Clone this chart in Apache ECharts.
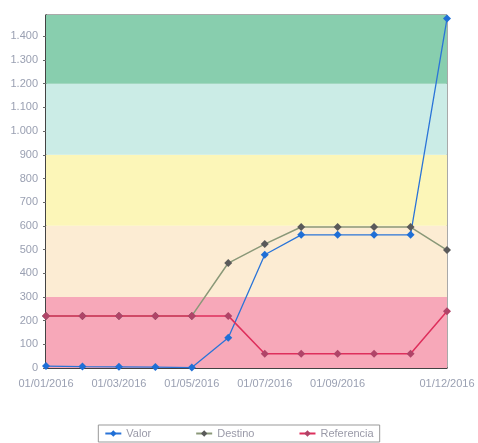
<!DOCTYPE html>
<html><head><meta charset="utf-8">
<script src="https://cdn.jsdelivr.net/npm/echarts@6/dist/echarts.min.js"></script>
<style>html,body{margin:0;padding:0;background:#fff}#c{width:478px;height:443px}</style>
</head><body><div id="c"></div>
<script>
const categories = ['01/01/2016','01/02/2016','01/03/2016','01/04/2016','01/05/2016','01/06/2016','01/07/2016','01/08/2016','01/09/2016','01/10/2016','01/11/2016','01/12/2016'];
const labelIdx = [0,2,4,6,8,11];
const valor = [8, 6, 5, 4, 2, 128, 478, 562, 562, 562, 562, 1475];
const destino = [220, 220, 220, 220, 220, 443, 523, 595, 595, 595, 595, 498];
const referencia = [220, 220, 220, 220, 220, 220, 60, 60, 60, 60, 60, 240];
const bands = [
  [0, 300, '#f7a8b9'],
  [300, 600, '#fcecd3'],
  [600, 900, '#fcf6b8'],
  [900, 1200, '#cbece6'],
  [1200, 1490, '#88ceae']
];
const chart = echarts.init(document.getElementById('c'));
const lbl = {color:'#9aa0b2', fontSize:11, fontFamily:'Liberation Sans'};
chart.setOption({
  animation:false,
  grid:{left:46, right:31, top:15, bottom:75, show:true, borderColor:'#555', borderWidth:1},
  legend:{bottom:1, left:'center', itemGap:44, itemWidth:16, itemHeight:8,
    borderColor:'#999', borderWidth:1, padding:[3,6,3,6],
    textStyle:{color:'#9a9aa8', fontSize:11, fontFamily:'Liberation Sans'},
    data:['Valor','Destino','Referencia']},
  xAxis:{type:'category', data:categories, boundaryGap:false,
    axisLine:{lineStyle:{color:'#222', width:1.5}},
    axisTick:{show:false},
    axisLabel:Object.assign({interval:(i)=>labelIdx.includes(i), margin:10}, lbl),
    splitLine:{show:false}},
  yAxis:{type:'value', min:0, max:1490, interval:100,
    axisLine:{show:true, lineStyle:{color:'#222', width:1.5}},
    axisTick:{show:true, length:3, lineStyle:{color:'#666'}},
    axisLabel:Object.assign({showMaxLabel:false, margin:8,
      formatter:v=>v>=1000?Math.floor(v/1000)+'.'+String(v%1000).padStart(3,'0'):String(v)}, lbl),
    splitLine:{show:false}},
  series:[
    {name:'Valor', type:'line', data:valor, symbol:'diamond', symbolSize:8,
     itemStyle:{color:'#1f6fd6'}, lineStyle:{color:'#2a74d8', width:1.3}, z:3,
     markArea:{silent:true, data:bands.map(b=>[{yAxis:b[0], itemStyle:{color:b[2], opacity:1}},{yAxis:b[1]}])}},
    {name:'Destino', type:'line', data:destino, symbol:'diamond', symbolSize:8,
     itemStyle:{color:'#5a5a5a'}, lineStyle:{color:'#8a9878', width:1.5}, z:4},
    {name:'Referencia', type:'line', data:referencia, symbol:'diamond', symbolSize:8,
     itemStyle:{color:'#b04468'}, lineStyle:{color:'#de2f5c', width:1.5}, z:5}
  ]
});
</script></body></html>
